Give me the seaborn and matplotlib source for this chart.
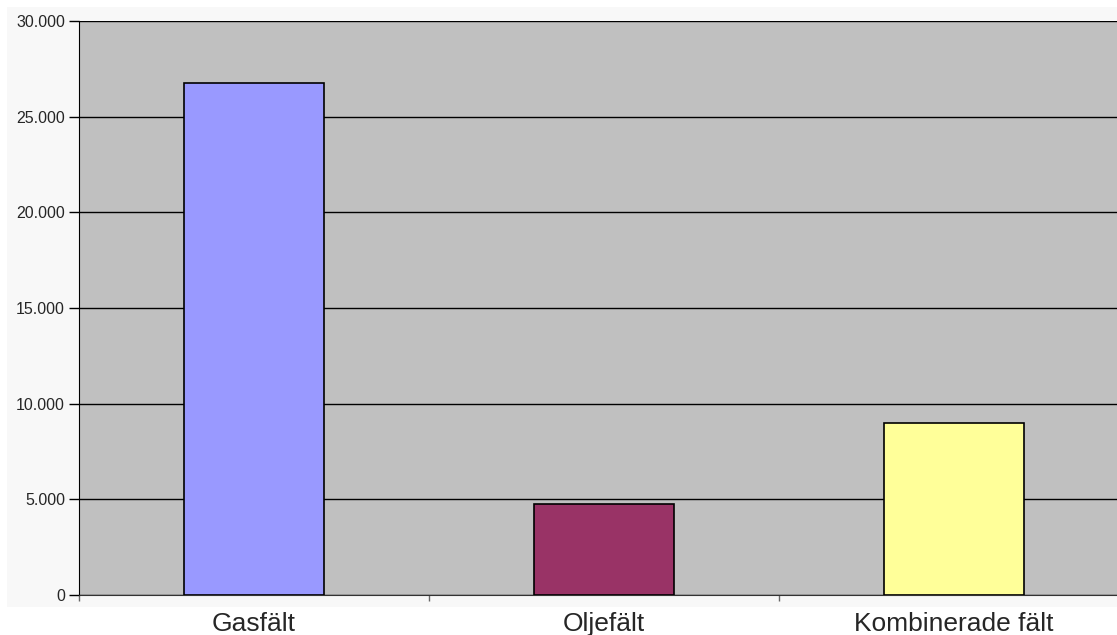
import matplotlib
matplotlib.use("Agg")
import matplotlib.pyplot as plt
import matplotlib.ticker as mticker
from matplotlib.patches import Rectangle
import seaborn as sns
import pandas as pd

categories = ["Gasfält", "Oljefält", "Kombinerade fält"]
values = [26750, 4750, 9000]
colors = ["#9999FF", "#993366", "#FFFF99"]
yticks = [0, 5000, 10000, 15000, 20000, 25000, 30000]

sns.set_style("white")
plt.rcParams['font.family'] = ['Liberation Sans', 'DejaVu Sans']

W, H = 1117, 635
fig = plt.figure(figsize=(W / 100, H / 100), dpi=100)
fig.patch.set_facecolor("white")
# light chart-area background
fig.patches.append(Rectangle((7 / W, 1 - 607 / H), 1, 600 / H, transform=fig.transFigure,
                             facecolor="#F8F8F8", edgecolor="none", zorder=-10))

ax = fig.add_axes([79 / W, 40 / H, 1050 / W, 574 / H])
ax.set_facecolor("#C0C0C0")

df = pd.DataFrame({"cat": categories, "val": values})
sns.barplot(data=df, x="cat", y="val", hue="cat", palette=colors, width=0.4,
            saturation=1, edgecolor="black", linewidth=1.2, ax=ax, legend=False, zorder=3)

ax.set_ylim(0, 30000)
ax.set_xlim(-0.5, 2.5)
ax.set_yticks(yticks)
ax.yaxis.set_major_formatter(mticker.FuncFormatter(lambda v, p: f"{int(v):,}".replace(",", ".")))
ax.grid(axis="y", color="black", linewidth=1, zorder=0)
ax.set_axisbelow(True)

for s in ["top", "right"]:
    ax.spines[s].set_visible(False)
ax.spines["left"].set_color("black")
ax.spines["bottom"].set_color("#333333")

ax.tick_params(axis="y", direction="out", length=7, width=1, color="black",
               labelsize=11.5, pad=3, left=True)
ax.set_xticks([0, 1, 2])
ax.set_xticklabels(categories)
ax.set_xticks([-0.5, 0.5, 1.5, 2.5], minor=True)
ax.tick_params(axis="x", which="major", length=0, labelsize=19, pad=12)
ax.tick_params(axis="x", which="minor", direction="out", length=4, width=1, color="#666666", bottom=True)
ax.set_xlabel("")
ax.set_ylabel("")

fig.savefig("out.png", dpi=100)
